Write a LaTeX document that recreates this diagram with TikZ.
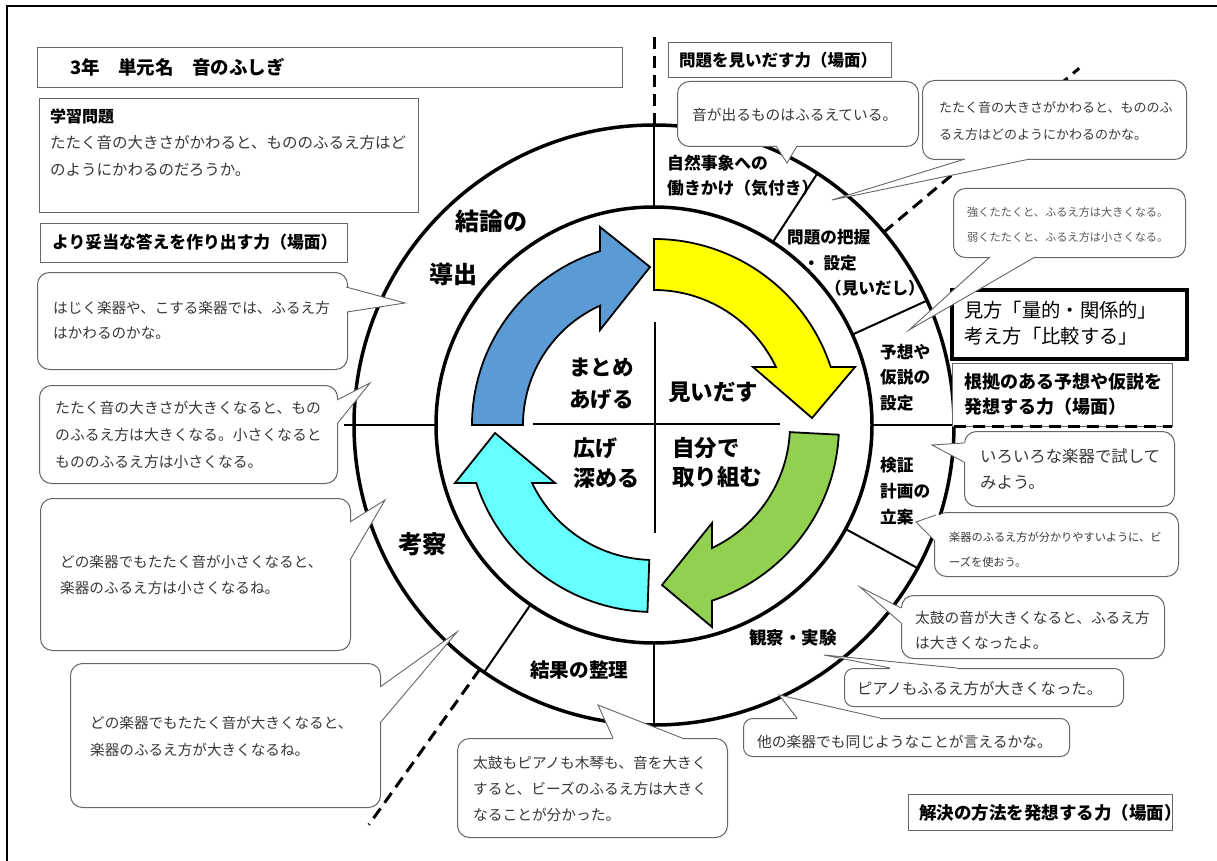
\documentclass[tikz,border=0pt]{standalone}
\usepackage{fontspec}
\newfontfamily\cjk{Noto Sans CJK JP}
\usetikzlibrary{calc}
\definecolor{ablue}{HTML}{5B9BD5}
\definecolor{ayel}{HTML}{FFFF00}
\definecolor{agreen}{HTML}{92D050}
\definecolor{acyan}{HTML}{66FFFF}
\tikzset{
  bub/.style={draw=black!60, fill=white, line width=1pt, rounded corners=12pt, inner sep=0pt, anchor=north west},
  sbub/.style={bub, rounded corners=9pt},
  sbox/.style={draw=black!60, fill=white, line width=1.2pt, inner sep=0pt, anchor=north west},
  kbox/.style={draw=black, fill=white, line width=4pt, inner sep=0pt, anchor=north west},
  txt/.style={inner sep=0pt, anchor=north west, align=left, text=black!78},
  lbl/.style={inner sep=0pt, anchor=north west, align=left, text=black},
  ptr/.style={draw=black!60, line width=0.9pt, line join=miter},
  ring/.style={line width=3.5pt},
  divl/.style={line width=2pt},
  cutl/.style={line width=3pt, dash pattern=on 12pt off 7pt},
  arw/.style={draw=black, line width=1.8pt, line join=miter},
}
\newcommand\bx[6]{\node[#6, minimum width={#4-#2}, minimum height={#5-#3}] (#1) at (#2,#3) {};}
\newcommand\tx[6]{\node[txt, font={\cjk\fontsize{#4}{#5}\selectfont}] (#1) at (#2,{#3-0.5*#4}) {#6};}
\newcommand\lb[6]{\node[lbl, font={\cjk\bfseries\fontsize{#4}{#5}\selectfont}] (#1) at (#2,{#3-0.5*#4}) {#6};}
\newcommand\callout[4]{%
  \fill[white] ($#1+(#4)$) -- #1 -- #2 -- #3 -- ($#3+(#4)$) -- cycle;
  \draw[ptr] #1 -- #2 -- #3;}
\begin{document}
\begin{tikzpicture}[x=1pt,y=-1pt]
\useasboundingbox (0,0) rectangle (1217,861);
\fill[white] (0,0) rectangle (1217,861);
% frame
\draw[line width=2pt] (7,861) -- (7,6) -- (1217,6);

% ---------------- circle diagram ----------------
\begin{scope}[shift={(654,425)}, yscale=-1]
  \coordinate (C) at (0,0);
  \draw[cutl] (90:300) -- (90:392);
  \draw[cutl] (40:300) -- (40:555);
  \draw[cutl] (234.5:300) -- (234.5:491);
  \draw[ring] (C) circle[radius=300];
  \draw[ring] (C) circle[radius=218];
  \foreach \a in {90,57,24.5,0,-28.5,-90,235.5} \draw[divl] (\a:218) -- (\a:300);
  \draw[divl] (180:218) -- (180:310);
  % arrows
  \filldraw[arw, fill=ablue] (180:131) -- (180:182) arc[start angle=180, end angle=107.3, radius=182]
    -- (-54,198) -- (-4,158) -- (-54,95) -- (114.3:131) arc[start angle=114.3, end angle=180, radius=131] -- cycle;
  \filldraw[arw, fill=ayel] (90:135) -- (90:186) arc[start angle=90, end angle=18.2, radius=186]
    -- (201,58) -- (158,7) -- (99,58) -- (25.4:135) arc[start angle=25.4, end angle=90, radius=135] -- cycle;
  \filldraw[arw, fill=agreen] (-3:136) -- (-3:185) arc[start angle=-3, end angle=-71.7, radius=185]
    -- (58,-202) -- (8,-160) -- (58,-98) -- (-64.8:136) arc[start angle=-64.8, end angle=-3, radius=136] -- cycle;
  \filldraw[arw, fill=acyan] (-92:135) -- (-92:187) arc[start angle=-92, end angle=-161.9, radius=187]
    -- (-199,-58) -- (-159,-8) -- (-99,-58) -- (-154.6:135) arc[start angle=-154.6, end angle=-92, radius=135] -- cycle;
  % cross
  \draw[divl] (1,103) -- (1,-108);
  \draw[divl] (-121,1) -- (126,1);
\end{scope}

% center labels
\lb{cMatome}{569}{368}{21.5}{32}{まとめ\\あげる}
\lb{cMiidasu}{668}{393}{22.5}{26}{見いだす}
\lb{cHiroge}{573}{448}{22}{30}{広げ\\深める}
\lb{cJibun}{672}{448}{22.5}{29}{自分で\\取り組む}

% ring labels
\lb{rKetsu}{455}{222}{24}{28}{結論の}
\lb{rDou}{429}{275}{24}{28}{導出}
\lb{rShizen}{667}{163}{16.8}{25}{自然事象への\\働きかけ（気付き）}
\lb{rMondai}{787}{237}{16.6}{20}{問題の把握}
\lb{rSettei}{803}{263}{16.6}{20}{・ 設定}
\lb{rMiidashi}{825}{288}{16.6}{20}{（見いだし）}
\lb{rYosou}{880}{352}{16.7}{25.5}{予想や\\仮説の\\設定}
\lb{rKenshou}{880}{465}{16.7}{26}{検証\\計画の\\立案}
\lb{rKansatsu}{749}{638}{17.5}{20}{観察・実験}
\lb{rKekka}{530}{670}{19.6}{22}{結果の整理}
\lb{rKousatsu}{398}{545}{24.5}{28}{考察}

% ---------------- left column ----------------
\bx{bTitle}{37}{47}{622}{87}{sbox}
\lb{tTitle}{70}{67}{18.5}{20}{3年　単元名　音のふしぎ}
\bx{bQ}{39}{98}{418}{212}{sbox}
\lb{tQh}{50}{117}{16}{18}{学習問題}
\tx{tQ}{50}{143}{15.5}{27}{たたく音の大きさがかわると、もののふるえ方はど\\のようにかわるのだろうか。}
\bx{bYori}{40}{223}{347}{262}{sbox}
\lb{tYori}{52}{242}{16.8}{20}{より妥当な答えを作り出す力（場面）}

\coordinate (tipA) at (405,303);
\bx{bA}{37}{272}{347}{369}{bub}
\callout{(346,287)}{(tipA)}{(347,312)}{-4,0}
\tx{tA}{53}{308}{14.6}{25}{はじく楽器や、こする楽器では、ふるえ方\\はかわるのかな。}

\coordinate (tipB) at (370,383);
\bx{bB}{39}{385}{337}{483}{bub}
\callout{(337,400)}{(tipB)}{(337,424)}{-4,0}
\tx{tB}{55}{408}{14.8}{27}{たたく音の大きさが大きくなると、もの\\のふるえ方は大きくなる。小さくなると\\もののふるえ方は小さくなる。}

\coordinate (tipC) at (385,500);
\bx{bC}{40}{498}{350}{650}{bub}
\callout{(350,522)}{(tipC)}{(350,560)}{-4,0}
\tx{tC}{60}{562}{14.6}{26}{どの楽器でもたたく音が小さくなると、\\楽器のふるえ方は小さくなるね。}

\coordinate (tipD) at (457,632);
\bx{bD}{70}{663}{380}{807}{bub}
\callout{(380,687)}{(tipD)}{(380,723)}{-4,0}
\tx{tD}{90}{723}{14.6}{27}{どの楽器でもたたく音が大きくなると、\\楽器のふるえ方が大きくなるね。}

% ---------------- bottom ----------------
\coordinate (tipE) at (598,705);
\bx{bE}{457}{738}{727}{837}{bub}
\callout{(613,738)}{(tipE)}{(682,738)}{0,4}
\tx{tE}{473}{763}{14.7}{26}{太鼓もピアノも木琴も、音を大きく\\すると、ビーズのふるえ方は大きく\\なることが分かった。}

\coordinate (tipF) at (779,695);
\bx{bF}{743}{718}{1069}{756}{sbub}
\callout{(797,718)}{(tipF)}{(880,718)}{0,4}
\tx{tF}{757}{742}{14.75}{18}{他の楽器でも同じようなことが言えるかな。}

\coordinate (tipG) at (824,655);
\bx{bG}{844}{668}{1123}{706}{sbub}
\callout{(890,668)}{(tipG)}{(957,668)}{0,4}
\tx{tG}{857}{689}{15.4}{18}{ピアノもふるえ方が大きくなった。}

\coordinate (tipH) at (860,587);
\bx{bH}{901}{595}{1164}{658}{bub}
\callout{(901,608)}{(tipH)}{(901,623)}{4,0}
\tx{tH}{915}{618}{14.7}{25}{太鼓の音が大きくなると、ふるえ方\\は大きくなったよ。}

\coordinate (tipI) at (916,522);
\bx{bI}{934}{512}{1178}{576}{bub}
\callout{(936,515)}{(tipI)}{(934,540)}{4,0}
\tx{tI}{949}{537}{11.2}{25}{楽器のふるえ方が分かりやすいように、ビ\\ーズを使おう。}

\coordinate (tipJ) at (932,445);
\bx{bJ}{964}{431}{1174}{506}{bub}
\callout{(964,443)}{(tipJ)}{(964,462)}{4,0}
\tx{tJ}{980}{457}{16.4}{26}{いろいろな楽器で試して\\みよう。}

\bx{bKaiketsu}{908}{794}{1172}{830}{sbox}
\lb{tKaiketsu}{919}{813}{17.5}{20}{解決の方法を発想する力（場面）}

% ---------------- right / top ----------------
\bx{bKonkyo}{952}{363}{1172}{426}{sbox}
\lb{tKonkyo}{964}{382}{18}{25}{根拠のある予想や仮説を\\発想する力（場面）}
\draw[cutl] (954,426) -- (1172,426);

\bx{bMikata}{950}{288}{1185}{357}{kbox}
\node[lbl, font={\cjk\fontsize{19.3}{26}\selectfont}] (tMikata) at (964,{311-9.6}) {見方「量的・関係的」\\考え方「比較する」};

\coordinate (tipK) at (909,330);
\bx{bK}{953}{188}{1185}{257}{bub}
\callout{(990,257)}{(tipK)}{(1035,257)}{0,-4}
\node[txt, text=black!65, font={\cjk\fontsize{11.2}{25}\selectfont}] (tK) at (967,{212-5.6}) {強くたたくと、ふるえ方は大きくなる。\\弱くたたくと、ふるえ方は小さくなる。};

\coordinate (tipL) at (832,200);
\bx{bL}{922}{80}{1186}{159}{bub}
\callout{(965,159)}{(tipL)}{(1030,159)}{0,-4}
\tx{tL}{939}{108}{13}{27}{たたく音の大きさがかわると、もののふ\\るえ方はどのようにかわるのかな。}

\coordinate (tipM) at (787,163);
\bx{bM}{677}{81}{918}{146}{bub}
\callout{(776,146)}{(tipM)}{(797,146)}{0,-4}
\tx{tM}{692}{115}{14.7}{18}{音が出るものはふるえている。}

\bx{bMon}{668}{42}{891}{77}{sbox}
\lb{tMon}{679}{60}{16.5}{20}{問題を見いだす力（場面）}
\end{tikzpicture}
\end{document}
